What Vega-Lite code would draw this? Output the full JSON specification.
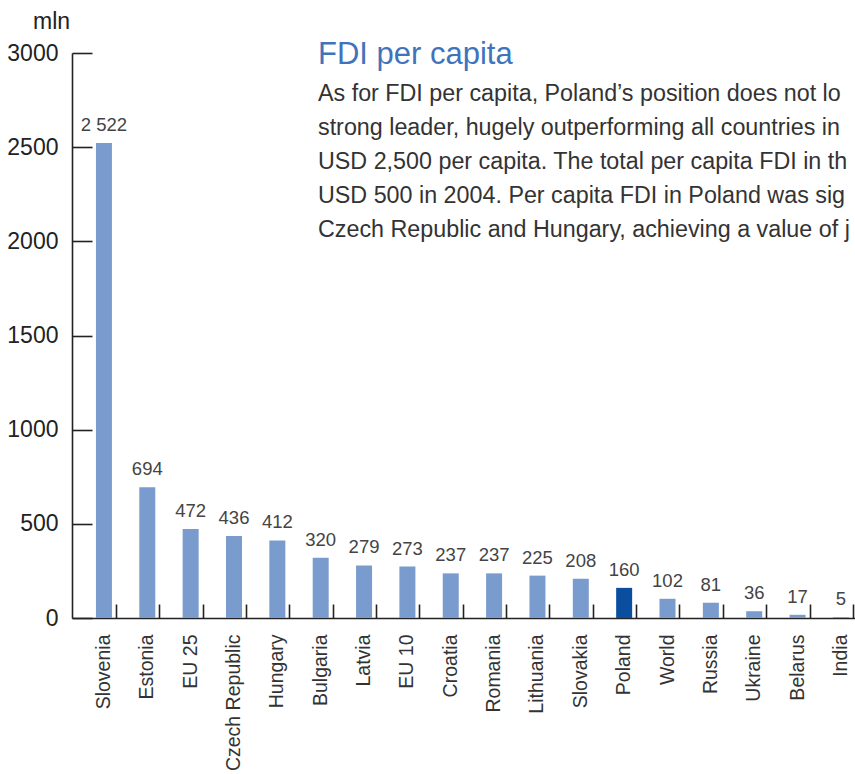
{
  "$schema": "https://vega.github.io/schema/vega-lite/v6.json",
  "width": 783,
  "height": 565,
  "autosize": {"type": "none"},
  "padding": {"left": 72, "top": 53, "right": 0, "bottom": 156},
  "background": "white",
  "config": {
    "view": {"stroke": null},
    "font": "Liberation Sans",
    "locale": {"number": {"decimal": ".", "thousands": " ", "grouping": [3], "currency": ["", ""]}}
  },
  "title": {
    "text": "FDI per capita",
    "subtitle": [
      "As for FDI per capita, Poland’s position does not lo",
      "strong leader, hugely outperforming all countries in",
      "USD 2,500 per capita. The total per capita FDI in th",
      "USD 500 in 2004. Per capita FDI in Poland was sig",
      "Czech Republic and Hungary, achieving a value of j"
    ],
    "anchor": "start",
    "frame": "group",
    "orient": "top",
    "dx": 246,
    "offset": -232,
    "font": "Liberation Sans",
    "fontSize": 31,
    "fontWeight": "normal",
    "color": "#3F74BC",
    "subtitleFont": "Liberation Sans",
    "subtitleFontSize": 23.3,
    "subtitleColor": "#333333",
    "subtitleLineHeight": 34,
    "subtitlePadding": 12
  },
  "data": {
    "values": [
      {"country": "Slovenia", "fdi": 2522},
      {"country": "Estonia", "fdi": 694},
      {"country": "EU 25", "fdi": 472},
      {"country": "Czech Republic", "fdi": 436},
      {"country": "Hungary", "fdi": 412},
      {"country": "Bulgaria", "fdi": 320},
      {"country": "Latvia", "fdi": 279},
      {"country": "EU 10", "fdi": 273},
      {"country": "Croatia", "fdi": 237},
      {"country": "Romania", "fdi": 237},
      {"country": "Lithuania", "fdi": 225},
      {"country": "Slovakia", "fdi": 208},
      {"country": "Poland", "fdi": 160},
      {"country": "World", "fdi": 102},
      {"country": "Russia", "fdi": 81},
      {"country": "Ukraine", "fdi": 36},
      {"country": "Belarus", "fdi": 17},
      {"country": "India", "fdi": 5}
    ]
  },
  "encoding": {
    "x": {
      "field": "country",
      "type": "nominal",
      "sort": null,
      "scale": {"paddingInner": 0.631, "paddingOuter": 0.3466, "align": 0.797},
      "axis": {
        "title": null,
        "labelAngle": -90,
        "labelFontSize": 19.5,
        "labelColor": "#333333",
        "labelPadding": 30,
        "tickSize": -14,
        "tickWidth": 1.6,
        "tickColor": "#222222",
        "bandPosition": 1.28,
        "domainColor": "#222222",
        "domainWidth": 1.6
      }
    },
    "y": {
      "field": "fdi",
      "type": "quantitative",
      "scale": {"domain": [0, 3000], "nice": false},
      "axis": {
        "title": "mln",
        "titleAngle": 0,
        "titleAlign": "center",
        "titleBaseline": "alphabetic",
        "titleX": -21,
        "titleY": -25,
        "titleFontSize": 23,
        "titleFontWeight": "normal",
        "titleColor": "#222222",
        "values": [0, 500, 1000, 1500, 2000, 2500, 3000],
        "format": "d",
        "grid": false,
        "labelFontSize": 23,
        "labelColor": "#222222",
        "labelPadding": 34,
        "tickSize": -20,
        "tickWidth": 1.6,
        "tickColor": "#222222",
        "domainColor": "#222222",
        "domainWidth": 1.6
      }
    }
  },
  "layer": [
    {
      "mark": {"type": "bar"},
      "encoding": {
        "color": {
          "condition": {"test": "datum.country === 'Poland'", "value": "#0B4EA0"},
          "value": "#7A9BCD"
        }
      }
    },
    {
      "mark": {"type": "text", "baseline": "alphabetic", "dy": -12, "fontSize": 18.5, "color": "#444444"},
      "encoding": {
        "text": {"field": "fdi", "type": "quantitative", "format": ",d"}
      }
    }
  ]
}
